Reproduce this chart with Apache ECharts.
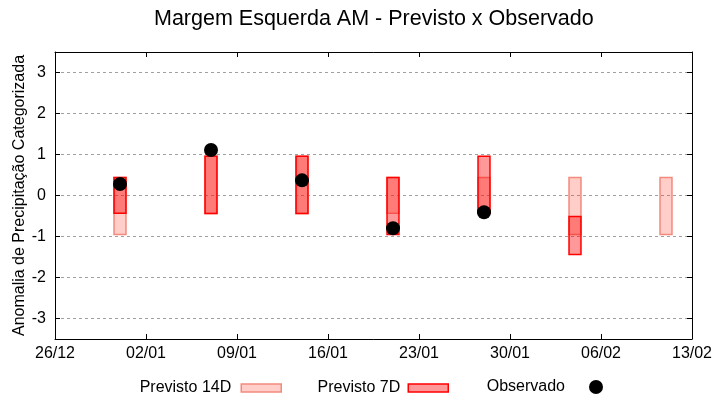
<!DOCTYPE html>
<html><head><meta charset="utf-8">
<script src="https://cdn.jsdelivr.net/npm/echarts@6/dist/echarts.min.js"></script>
<style>html,body{margin:0;padding:0;background:#fff}#c{width:720px;height:400px}</style>
</head><body><div id="c"></div>
<script>
// ---- data ----
const startDate = '26/12';
const endDate = '13/02';
const dates = ['31/12', '07/01', '14/01', '21/01', '28/01', '04/02', '11/02'];
const prev14Low  = [-0.95, -0.44, -0.44, -0.43, -0.43, -0.95, -0.95];
const prev14High = [ 0.44,  0.96,  0.96,  0.44,  0.44,  0.44,  0.44];
const prev7Low   = [-0.43, -0.44, -0.44, -0.95, -0.43, -1.44, null];
const prev7High  = [ 0.44,  0.96,  0.96,  0.44,  0.96, -0.51, null];
const observado  = [ 0.28,  1.11,  0.37, -0.80, -0.41, null, null];
const yMin = -3.5, yMax = 3.5;

// ---- helpers ----
const BASE = Date.UTC(2024, 11, 26);
function dayIndex(s) {
  const [d, m] = s.split('/').map(Number);
  const y = m === 12 ? 2024 : 2025;
  return Math.round((Date.UTC(y, m - 1, d) - BASE) / 86400000);
}
function pad(n) { return (n < 10 ? '0' : '') + n; }
function dayLabel(n) {
  const t = new Date(BASE + n * 86400000);
  return pad(t.getUTCDate()) + '/' + pad(t.getUTCMonth() + 1);
}
const xs = dates.map(dayIndex);
const xMin = dayIndex(startDate), xMax = dayIndex(endDate);

function rangeData(lo, hi) {
  const out = [];
  xs.forEach((x, i) => { if (lo[i] != null && hi[i] != null) out.push([x, lo[i], hi[i]]); });
  return out;
}
function makeRender(fill, stroke) {
  return function (params, api) {
    const x = api.value(0), lo = api.value(1), hi = api.value(2);
    const p1 = api.coord([x - 0.46, hi]);
    const p2 = api.coord([x + 0.46, lo]);
    return {
      type: 'rect',
      shape: { x: p1[0], y: p1[1], width: p2[0] - p1[0], height: p2[1] - p1[1] },
      style: { fill: fill, stroke: stroke, lineWidth: 1.5 }
    };
  };
}

const C14_FILL = 'rgba(255,60,40,0.25)', C14_STROKE = '#f38a7e';
const C7_FILL = 'rgba(255,0,0,0.4)', C7_STROKE = '#ff0000';
const FONT = 'Liberation Sans';

const chart = echarts.init(document.getElementById('c'), null, { renderer: 'canvas' });
const legendBase = {
  orient: 'horizontal', align: 'right', padding: 0, selectedMode: false,
  textStyle: { fontSize: 16, color: '#000', fontFamily: FONT }
};
const axisLineStyle = { show: true, onZero: false, lineStyle: { color: '#000', width: 1 } };
const tickStyle = { show: true, inside: true, length: 5, lineStyle: { color: '#000' } };
chart.setOption({
  animation: false,
  backgroundColor: '#fff',
  title: {
    text: 'Margem Esquerda AM - Previsto x Observado',
    left: 154, top: 8, padding: 0,
    textStyle: { fontSize: 21.5, fontWeight: 'normal', color: '#000', fontFamily: FONT }
  },
  grid: { left: 55, right: 28, top: 52, bottom: 61, containLabel: false },
  legend: [
    Object.assign({}, legendBase, {
      right: 438, top: 380, itemWidth: 40, itemHeight: 8,
      textStyle: Object.assign({}, legendBase.textStyle, { padding: [0, 5, 0, 0] }),
      data: [{ name: 'Previsto 14D', icon: 'rect', itemStyle: { color: C14_FILL, borderColor: C14_STROKE, borderWidth: 1.5 } }]
    }),
    Object.assign({}, legendBase, {
      right: 271, top: 380, itemWidth: 40, itemHeight: 8,
      textStyle: Object.assign({}, legendBase.textStyle, { padding: [0, 3, 0, 0] }),
      data: [{ name: 'Previsto 7D', icon: 'rect', itemStyle: { color: C7_FILL, borderColor: C7_STROKE, borderWidth: 1.5 } }]
    }),
    Object.assign({}, legendBase, {
      right: 117, top: 379, itemWidth: 14, itemHeight: 14,
      textStyle: Object.assign({}, legendBase.textStyle, { padding: [0, 19, 0, 0] }),
      data: [{ name: 'Observado', icon: 'circle', itemStyle: { color: '#000', opacity: 1 } }]
    })
  ],
  xAxis: [
    {
      type: 'value', min: xMin, max: xMax, interval: 7, position: 'bottom',
      axisLine: axisLineStyle, axisTick: tickStyle,
      axisLabel: { formatter: dayLabel, color: '#000', fontSize: 16, margin: 7, fontFamily: FONT },
      splitLine: { show: false }
    },
    {
      type: 'value', min: xMin, max: xMax, interval: 7, position: 'top',
      axisLine: axisLineStyle, axisTick: tickStyle,
      axisLabel: { show: false }, splitLine: { show: false }
    }
  ],
  yAxis: [
    {
      type: 'value', min: yMin, max: yMax, splitNumber: 7, position: 'left',
      name: 'Anomalia de Precipitação Categorizada', nameLocation: 'middle', nameGap: 27,
      nameMoveOverlap: false,
      nameTextStyle: { fontSize: 16, color: '#000', fontFamily: FONT },
      axisLine: axisLineStyle, axisTick: tickStyle,
      axisLabel: { color: '#000', fontSize: 16, margin: 9, fontFamily: FONT, showMinLabel: false, showMaxLabel: false },
      splitLine: { show: true, lineStyle: { color: '#a0a0a0', type: [3, 3], width: 1 } }
    },
    {
      type: 'value', min: yMin, max: yMax, splitNumber: 7, position: 'right',
      axisLine: axisLineStyle, axisTick: tickStyle,
      axisLabel: { show: false }, splitLine: { show: false }
    }
  ],
  series: [
    {
      name: 'Previsto 14D', type: 'custom', xAxisIndex: 0, yAxisIndex: 0,
      renderItem: makeRender(C14_FILL, C14_STROKE),
      encode: { x: 0, y: [1, 2] },
      itemStyle: { color: C14_FILL },
      data: rangeData(prev14Low, prev14High), z: 2
    },
    {
      name: 'Previsto 7D', type: 'custom', xAxisIndex: 0, yAxisIndex: 0,
      renderItem: makeRender(C7_FILL, C7_STROKE),
      encode: { x: 0, y: [1, 2] },
      itemStyle: { color: C7_FILL },
      data: rangeData(prev7Low, prev7High), z: 3
    },
    {
      name: 'Observado', type: 'scatter', xAxisIndex: 0, yAxisIndex: 0,
      symbol: 'circle', symbolSize: 14, itemStyle: { color: '#000', opacity: 1 },
      data: xs.map((x, i) => [x, observado[i]]).filter(p => p[1] != null), z: 4
    }
  ]
});
</script>
</body></html>
